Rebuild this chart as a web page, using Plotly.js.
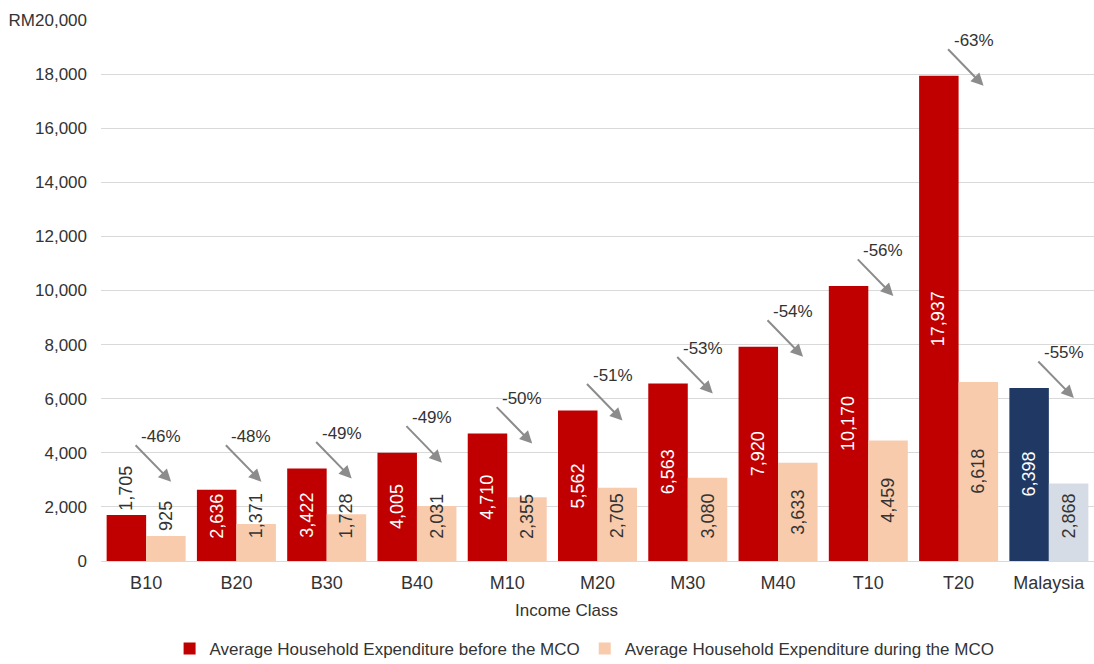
<!DOCTYPE html>
<html>
<head>
<meta charset="utf-8">
<script src="https://cdn.plot.ly/plotly-3.0.1.min.js"></script>
<style>
  html, body { margin: 0; padding: 0; background: #ffffff; }
  #chart { width: 1094px; height: 664px; }
</style>
</head>
<body>
<div id="chart"></div>
<script>
// Income classes on the x axis
const incomeClasses = ['B10', 'B20', 'B30', 'B40', 'M10', 'M20', 'M30', 'M40', 'T10', 'T20', 'Malaysia'];

// Average monthly household expenditure (RM)
const beforeMCO = [1705, 2636, 3422, 4005, 4710, 5562, 6563, 7920, 10170, 17937, 6398];
const duringMCO = [925, 1371, 1728, 2031, 2355, 2705, 3080, 3633, 4459, 6618, 2868];

// Change in expenditure, before -> during the MCO
const changeLabels = ['-46%', '-48%', '-49%', '-49%', '-50%', '-51%', '-53%', '-54%', '-56%', '-63%', '-55%'];

const yTickValues = [0, 2000, 4000, 6000, 8000, 10000, 12000, 14000, 16000, 18000, 20000];
const yTickLabels = ['0', '2,000', '4,000', '6,000', '8,000', '10,000', '12,000', '14,000', '16,000', '18,000', 'RM20,000'];

const RED = '#C00000', PEACH = '#F8CBAD', NAVY = '#203864', PALE = '#D6DCE5';
const DARK_TEXT = '#333333';
const FONT = 'Liberation Sans, Arial, sans-serif';

// Geometry used to place the value labels
const W = 1094, H = 664;
const M = { l: 101, r: 0, t: 20, b: 103 };
const Y_MAX = 20000;
const BARGAP = 0.125;
const plotW = W - M.l - M.r, plotH = H - M.t - M.b;
const unitsPerPx = Y_MAX / plotH;
const barW = plotW / incomeClasses.length * (1 - BARGAP) / 2;

const LABEL_SIZE = 18;
const MIN_CENTER_PX = 45;   // labels on short bars sit no lower than this
const fmt = v => v.toLocaleString('en-US');
// approximate rendered length of a numeric label (Arial metrics)
const textLen = s => [...s].reduce((w, ch) => w + (ch === ',' ? 0.278 : 0.556), 0) * LABEL_SIZE;

const isTotal = c => c === 'Malaysia';

const traceBefore = {
  type: 'bar',
  name: 'Average Household Expenditure before the MCO',
  x: incomeClasses,
  y: beforeMCO,
  marker: { color: incomeClasses.map(c => isTotal(c) ? NAVY : RED) },
  hoverinfo: 'x+y'
};

const traceDuring = {
  type: 'bar',
  name: 'Average Household Expenditure during the MCO',
  x: incomeClasses,
  y: duringMCO,
  marker: { color: incomeClasses.map(c => isTotal(c) ? PALE : PEACH) },
  hoverinfo: 'x+y'
};

const annotations = [];

// Rotated value labels: centred in the bar, lifted clear of the axis on
// short bars, and moved above a dark bar when they would not fit inside it.
function addValueLabels(values, side, darkFill) {
  values.forEach((v, i) => {
    const s = fmt(v);
    const len = textLen(s);
    const h = v / unitsPerPx;
    let center = Math.max(h / 2, MIN_CENTER_PX);
    let color = darkFill ? '#ffffff' : DARK_TEXT;
    if (darkFill && center + len / 2 > h - 2) {
      center = h + 4 + len / 2;
      color = DARK_TEXT;
    }
    annotations.push({
      x: incomeClasses[i], y: center * unitsPerPx, xref: 'x', yref: 'y',
      xshift: side * barW / 2,
      text: s, textangle: -90, showarrow: false,
      xanchor: 'center', yanchor: 'middle',
      font: { family: FONT, size: LABEL_SIZE, color: color }
    });
  });
}
addValueLabels(beforeMCO, -1, true);
addValueLabels(duringMCO, 1, false);

// Arrow + percentage change above each pair of bars
const ARROW_FLOOR = 3300;
incomeClasses.forEach((c, i) => {
  const tipY = Math.max(beforeMCO[i], ARROW_FLOOR);
  annotations.push({
    x: c, y: tipY, xref: 'x', yref: 'y',
    xshift: 25, yshift: -10,
    text: '', showarrow: true,
    ax: -37, ay: -38,
    arrowhead: 2, arrowsize: 1.25, arrowwidth: 2,
    arrowcolor: '#8C8C8C', standoff: 0
  });
  annotations.push({
    x: c, y: tipY, xref: 'x', yref: 'y',
    xshift: 15, yshift: 35,
    text: changeLabels[i], showarrow: false,
    font: { family: FONT, size: 17, color: DARK_TEXT }
  });
});

// x-axis title
annotations.push({
  xref: 'paper', yref: 'paper', x: 0.469, y: -0.092,
  xanchor: 'center', yanchor: 'middle',
  text: 'Income Class', showarrow: false,
  font: { family: FONT, size: 17, color: DARK_TEXT }
});

const layout = {
  width: W,
  height: H,
  margin: { l: M.l, r: M.r, t: M.t, b: M.b, pad: 0, autoexpand: false },
  paper_bgcolor: '#ffffff',
  plot_bgcolor: '#ffffff',
  font: { family: FONT, size: 17, color: DARK_TEXT },
  barmode: 'group',
  bargap: BARGAP,
  bargroupgap: 0,
  showlegend: true,
  legend: {
    orientation: 'h',
    x: 0.487, xanchor: 'center',
    yref: 'container',
    y: 15 / H, yanchor: 'middle',
    font: { family: FONT, size: 17, color: DARK_TEXT },
    itemwidth: 30,
    traceorder: 'normal'
  },
  xaxis: {
    type: 'category',
    showgrid: false,
    showline: true,
    linecolor: '#D9D9D9',
    linewidth: 1,
    ticks: '',
    ticklabelstandoff: 5,
    tickfont: { family: FONT, size: 18, color: DARK_TEXT },
    fixedrange: true
  },
  yaxis: {
    range: [0, Y_MAX],
    tickvals: yTickValues,
    ticktext: yTickLabels,
    showgrid: true,
    gridcolor: '#D9D9D9',
    gridwidth: 1,
    zeroline: false,
    showline: false,
    ticks: '',
    ticklabelstandoff: 13,
    tickfont: { family: FONT, size: 17, color: DARK_TEXT },
    fixedrange: true
  },
  annotations: annotations
};

Plotly.newPlot('chart', [traceBefore, traceDuring], layout, { displayModeBar: false, staticPlot: true });
</script>
</body>
</html>
